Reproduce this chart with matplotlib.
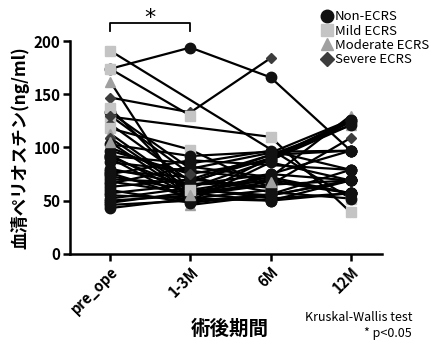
import numpy as np
import matplotlib
matplotlib.use("Agg")
import matplotlib.pyplot as plt

plt.rcParams['font.family'] = ['Noto Sans CJK JP', 'DejaVu Sans']

timepoints = ['pre_ope', '1-3M', '6M', '12M']
groups = ['Non-ECRS', 'Mild ECRS', 'Moderate ECRS', 'Severe ECRS']

# periostin (ng/ml) per patient: pre_ope, 1-3M, 6M, 12M (nan = missing)
nan = np.nan
patient_group = [
    'Non-ECRS', 'Mild ECRS', 'Mild ECRS', 'Severe ECRS', 'Mild ECRS',
    'Moderate ECRS', 'Non-ECRS', 'Severe ECRS', 'Mild ECRS', 'Moderate ECRS',
    'Severe ECRS', 'Non-ECRS', 'Moderate ECRS', 'Non-ECRS', 'Non-ECRS',
    'Non-ECRS', 'Non-ECRS', 'Non-ECRS', 'Non-ECRS', 'Non-ECRS',
    'Non-ECRS', 'Non-ECRS', 'Non-ECRS', 'Non-ECRS', 'Non-ECRS',
    'Non-ECRS', 'Non-ECRS', 'Non-ECRS', 'Non-ECRS', 'Non-ECRS',
    'Non-ECRS', 'Non-ECRS', 'Non-ECRS', 'Non-ECRS', 'Non-ECRS',
    'Non-ECRS', 'Mild ECRS', 'Severe ECRS', 'Moderate ECRS',
]
patient_values = [
    [174, 194, 166, 97],
    [191, nan, nan, 52],
    [129, nan, 110, 39],
    [147, 133, 184, nan],
    [174, 130, nan, nan],
    [162, 46, 55, nan],
    [133, 80, 95, 126],
    [122, 68, 90, 124],
    [118, 98, 62, nan],
    [113, 60, 72, 130],
    [109, 58, 65, 109],
    [103, 92, 96, 97],
    [100, 70, 93, 121],
    [97, 75, 88, 124],
    [93, 55, 75, 69],
    [92, 85, 97, 79],
    [91, 62, 52, 57],
    [90, 50, 86, 69],
    [86, 78, 70, nan],
    [80, 65, 68, 57],
    [78, 72, 58, 52],
    [76, 53, 90, 126],
    [75, 88, nan, 79],
    [73, 60, 55, 69],
    [70, 67, 93, 97],
    [68, 57, 50, 69],
    [66, 82, 72, 57],
    [63, 70, 62, nan],
    [60, 48, 56, 79],
    [57, 65, 75, 97],
    [55, 52, 60, nan],
    [52, 62, 88, 121],
    [50, 55, 65, 69],
    [48, 58, 70, 57],
    [46, 50, 55, 69],
    [43, 52, 50, 57],
    [137, 60, nan, nan],
    [130, 75, nan, nan],
    [105, 55, 68, nan],
]

markers = {'Non-ECRS': 'o', 'Mild ECRS': 's', 'Moderate ECRS': '^', 'Severe ECRS': 'D'}
colors = {'Non-ECRS': '#111111', 'Mild ECRS': '#c4c4c4', 'Moderate ECRS': '#a0a0a0', 'Severe ECRS': '#3c3c3c'}
msizes = {'Non-ECRS': 7.5, 'Mild ECRS': 7, 'Moderate ECRS': 7.5, 'Severe ECRS': 5.5}

fig = plt.figure(figsize=(4.33, 3.43), dpi=100)
ax = fig.add_axes([0.162, 0.26, 0.72, 0.62])

x = np.arange(len(timepoints))
for grp, vals in zip(patient_group, patient_values):
    v = np.array(vals, dtype=float)
    ok = ~np.isnan(v)
    ax.plot(x[ok], v[ok], color='black', lw=1.6, zorder=2)
    ax.plot(x[ok], v[ok], ls='none', marker=markers[grp], ms=msizes[grp],
            mfc=colors[grp], mec=colors[grp], zorder=3)

ax.set_xlim(-0.5, 3.39)
ax.set_ylim(0, 200)
ax.set_yticks([0, 50, 100, 150, 200])
ax.set_xticks(x)
ax.set_xticklabels(timepoints, rotation=45, ha='right', rotation_mode='anchor',
                   fontsize=10.5, fontweight='bold')
for lab in ax.get_yticklabels():
    lab.set_fontsize(11)
    lab.set_fontweight('bold')
ax.spines['top'].set_visible(False)
ax.spines['right'].set_visible(False)
ax.spines['left'].set_linewidth(1.8)
ax.spines['bottom'].set_linewidth(1.8)
ax.tick_params(width=1.8, length=5, pad=2)

ax.set_ylabel('血清ペリオスチン(ng/ml)', fontsize=12.5, fontweight='bold', labelpad=3)
fig.text(0.53, 0.04, '術後期間', fontsize=14, fontweight='bold', ha='center', va='center')
fig.text(0.952, 0.073, 'Kruskal-Wallis test', fontsize=9, ha='right', va='center')
fig.text(0.952, 0.028, '* p<0.05', fontsize=9, ha='right', va='center')

# significance bracket between pre_ope and 1-3M
ax.plot([0, 0, 1, 1], [210, 217, 217, 210], color='black', lw=1.3, clip_on=False)
ax.text(0.5, 222, '*', fontsize=16, ha='center', va='center', family='DejaVu Sans')

handles = [plt.Line2D([], [], ls='none', marker=markers[g], ms=msizes[g] + 1.5,
                      mfc=colors[g], mec=colors[g]) for g in groups]
fig.legend(handles, groups, loc='upper left', bbox_to_anchor=(0.725, 0.985),
           frameon=False, fontsize=9.5, handletextpad=0.0, labelspacing=0.1,
           handlelength=1.2, borderaxespad=0)

fig.savefig('out.png', dpi=100)
